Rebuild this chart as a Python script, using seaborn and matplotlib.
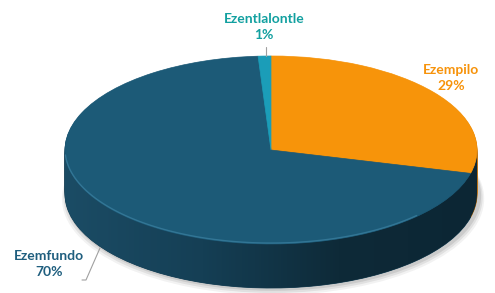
import numpy as np
import seaborn as sns
import matplotlib
matplotlib.use("Agg")
from matplotlib import pyplot as plt
from matplotlib.patches import Polygon
from matplotlib.colors import LinearSegmentedColormap

# dados do gráfico
categorias = ["Ezempilo", "Ezemfundo", "Ezentlalontle"]
valores = [29, 70, 1]

cores_topo = ["#F7940A", "#1C5A77", "#1B9DB8"]
cores_lado = ["#B86A05", "#153F55", "#137086"]
cores_texto = ["#F7930B", "#1F5E7E", "#12A0A0"]

sns.set_theme(style="white")
plt.rcParams["font.family"] = ["Lato", "DejaVu Sans"]

W, H = 495, 293
cx, cy, rx, ry = 271, 150, 206, 94   # elipse do topo, em pixels
profundidade = 44 / ry


def xy(px, py):
    # pixel -> coordenadas do gráfico (raio 1 = elipse)
    return ((px - cx) / rx, (cy - py) / ry)


fig = plt.figure(figsize=(W / 100, H / 100), dpi=100)
ax = fig.add_axes([0, 0, 1, 1])

# sombra leve embaixo
for k, a in zip([0.05, 0.035, 0.02], [0.05, 0.07, 0.09]):
    ax.pie([1], colors=["#000000"], center=(0.01, -profundidade - k), radius=1 + k / 2,
           wedgeprops=dict(alpha=a, linewidth=0))

# lateral do "cilindro": várias pizzas empilhadas
for d in np.linspace(profundidade, 0.01, 30):
    ax.pie(valores, colors=cores_lado, startangle=90, counterclock=False,
           center=(0, -d), radius=1, wedgeprops=dict(linewidth=0.6))
    for w, c in zip(ax.patches[-3:], cores_lado):
        w.set_edgecolor(c)

# degradê horizontal na lateral
t = np.linspace(np.pi, 2 * np.pi, 200)
lado = np.vstack([np.column_stack([np.cos(t), np.sin(t)]),
                  np.column_stack([np.cos(t[::-1]), np.sin(t[::-1]) - profundidade])])
clip = Polygon(lado, closed=True, facecolor="none", edgecolor="none")
ax.add_patch(clip)
grad = LinearSegmentedColormap.from_list("lado", ["#1B4C65", "#153F55", "#0E2A38", "#0C2634"])
img = ax.imshow(np.linspace(0, 1, 256)[None, :], cmap=grad, aspect="auto",
                extent=(-1, 1, -1 - profundidade, 0.05), zorder=2)
img.set_clip_path(clip)

# topo
fatias, _ = ax.pie(valores, colors=cores_topo, startangle=90, counterclock=False,
                   center=(0, 0), radius=1, wedgeprops=dict(linewidth=0.5))
for w, c in zip(fatias, cores_topo):
    w.set_edgecolor(c)
    w.set_zorder(3)

# brilho na borda frontal do topo
tb = np.linspace(np.pi * 1.02, np.pi * 1.75, 100)
ax.plot(np.cos(tb), np.sin(tb) + 0.01, color="#3C82A3", lw=1.0, alpha=0.7, zorder=4)

ax.set_aspect("auto")
ax.set_xlim(xy(0, 0)[0], xy(W, 0)[0])
ax.set_ylim(xy(0, H)[1], xy(0, 0)[1])
ax.axis("off")

# rótulos
pos_rotulo = {"Ezempilo": (451, 78), "Ezemfundo": (49, 264), "Ezentlalontle": (264, 27)}
for cat, pct, cor in zip(categorias, valores, cores_texto):
    px, py = pos_rotulo[cat]
    ax.text(*xy(px, py), f"{cat}\n{pct}%", ha="center", va="center",
            color=cor, fontsize=10, fontweight="bold", linespacing=1.35, zorder=5)

# linhas de chamada
ax.plot(*zip(xy(266, 47), xy(266, 56)), color="#A0A0A0", lw=0.8, zorder=5)
ax.plot(*zip(xy(82, 280), xy(86, 280), xy(100, 248)), color="#A0A0A0", lw=0.8, zorder=5)

fig.savefig("out.png", dpi=100)
